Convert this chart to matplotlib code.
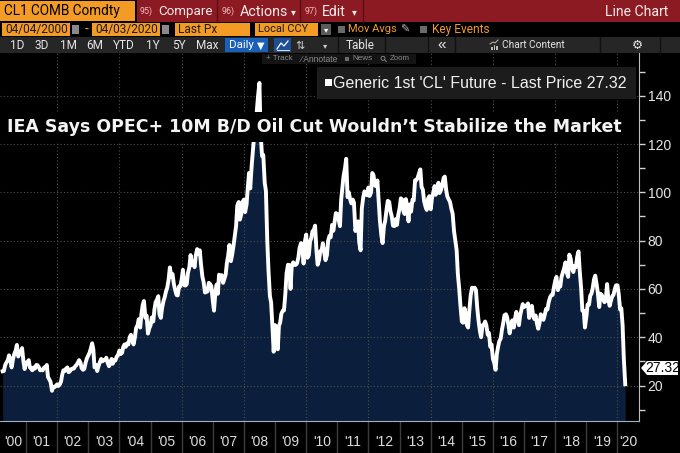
import numpy as np
import pandas as pd
import matplotlib
matplotlib.use("Agg")
import matplotlib.pyplot as plt
import matplotlib.dates as mdates
from matplotlib.patches import Rectangle, Polygon, Circle
from matplotlib.ticker import FixedLocator, FixedFormatter, NullFormatter

W, H = 680, 453

# harga CL1 (WTI), dua titik per bulan (tgl 1 dan 15)
p2000 = [25.9, 26.0, 28.5, 29.5, 30.5, 32.5, 30.5, 27.5, 31.0, 33.0, 34.5, 36.8,
         32.0, 33.5, 34.0, 35.5, 30.0, 26.8]
p2001 = [29.5, 29.2, 30.5, 27.5, 27.0, 26.3, 27.5, 27.0, 28.5, 28.4, 27.5, 26.3,
         26.5, 26.3, 27.5, 27.2, 28.5, 23.5, 22.5, 21.5, 17.8, 19.5, 19.3, 19.8]
p2002 = [20.5, 19.8, 20.5, 21.6, 24.5, 26.3, 26.0, 27.0, 27.5, 25.5, 26.0, 26.8,
         27.0, 27.0, 28.0, 28.5, 29.5, 30.5, 29.5, 27.2, 26.5, 26.9, 29.5, 31.2]
p2003 = [32.5, 33.5, 35.5, 37.5, 35.0, 27.5, 28.5, 26.0, 28.0, 29.5, 31.0, 30.0,
         30.5, 30.5, 31.5, 29.5, 28.0, 29.0, 31.0, 29.0, 30.5, 30.4, 32.0, 32.5]
p2004 = [34.5, 33.0, 33.5, 36.0, 37.0, 36.0, 37.5, 37.0, 40.0, 41.0, 38.5, 37.0,
         40.0, 43.8, 45.0, 47.5, 44.0, 49.5, 53.5, 55.0, 48.0, 49.0, 41.5, 43.5]
p2005 = [45.0, 48.2, 46.5, 51.5, 54.5, 55.4, 57.0, 49.5, 48.0, 51.9, 55.0, 56.5,
         59.0, 60.5, 64.0, 68.9, 65.0, 66.2, 62.0, 59.8, 57.5, 57.3, 61.0, 61.0]
p2006 = [64.0, 67.9, 61.5, 61.4, 62.0, 66.6, 69.0, 74.0, 70.0, 71.3, 69.0, 73.9,
         76.5, 74.4, 76.0, 70.3, 65.0, 62.9, 58.5, 58.7, 59.0, 62.5, 62.0, 61.1]
p2007 = [55.0, 51.0, 59.0, 61.8, 58.0, 65.9, 64.0, 65.7, 62.5, 64.0, 66.0, 70.7,
         74.0, 78.2, 71.5, 74.0, 78.0, 81.7, 86.0, 94.5, 96.0, 88.7, 91.0, 96.0]
p2008 = [97.0, 91.8, 95.0, 101.8, 108.0, 101.6, 111.0, 117.0, 124.0, 127.4, 134.0, 140.0,
         145.3, 124.1, 115.0, 115.5, 104.0, 100.6, 80.0, 67.8, 57.0, 54.4, 44.0, 34.0]
p2009 = [45.0, 41.7, 35.0, 44.8, 46.0, 49.7, 51.0, 51.1, 58.0, 66.3, 70.0, 69.9,
         60.0, 69.5, 71.0, 69.9, 70.0, 70.6, 73.0, 77.0, 79.0, 77.3, 70.5, 79.4]
p2010 = [82.5, 72.9, 74.0, 79.7, 81.0, 83.8, 84.5, 86.2, 76.0, 70.0, 72.0, 75.6,
         76.0, 78.9, 75.0, 71.9, 74.0, 80.0, 82.0, 81.4, 86.5, 84.1, 88.0, 91.4]
p2011 = [91.0, 89.0, 86.0, 97.0, 102.0, 106.7, 110.0, 113.9, 98.0, 100.0, 97.0, 95.4,
         97.0, 95.7, 84.0, 86.0, 88.0, 79.2, 76.0, 93.2, 98.0, 100.4, 100.0, 98.8]
p2012 = [102.0, 98.5, 100.0, 108.0, 107.0, 103.0, 102.5, 104.9, 96.0, 88.0, 82.0, 79.0,
         86.0, 88.1, 93.0, 96.5, 96.0, 92.2, 90.0, 86.2, 86.0, 88.9, 86.5, 90.5]
p2013 = [93.5, 97.5, 97.0, 92.1, 91.0, 97.2, 94.0, 88.0, 95.0, 92.0, 97.0, 96.6,
         105.0, 105.0, 106.0, 107.7, 109.5, 102.3, 101.0, 96.4, 94.0, 92.7, 97.5, 98.4]
p2014 = [93.0, 97.5, 100.0, 102.6, 99.0, 101.6, 104.0, 99.7, 101.0, 102.7, 106.0, 106.5,
         101.0, 98.2, 97.0, 96.0, 93.0, 91.2, 84.0, 80.5, 76.0, 66.2, 60.0, 53.3]
p2015 = [46.5, 46.0, 52.0, 49.8, 45.0, 44.0, 52.0, 57.5, 60.5, 60.3, 60.5, 59.5,
         52.0, 47.1, 42.5, 40.0, 45.0, 45.1, 46.5, 45.0, 41.0, 41.7, 36.0, 37.0]
p2016 = [31.0, 29.5, 26.5, 33.0, 36.0, 38.3, 39.5, 43.0, 46.0, 49.1, 49.5, 48.3,
         45.0, 41.6, 45.0, 47.0, 44.0, 47.5, 50.5, 48.0, 45.0, 49.0, 51.5, 53.7]
p2017 = [52.5, 53.0, 53.0, 54.0, 48.0, 50.6, 53.0, 49.3, 47.5, 49.0, 45.5, 43.5,
         46.0, 49.5, 48.5, 47.2, 49.5, 51.7, 51.5, 54.4, 56.5, 57.4, 57.5, 60.4]
p2018 = [63.5, 65.0, 59.5, 61.6, 61.0, 64.9, 67.0, 68.6, 71.0, 67.0, 65.0, 74.2,
         72.5, 68.8, 67.0, 69.5, 69.0, 73.3, 75.5, 67.5, 60.0, 51.0, 51.0, 44.0]
p2019 = [48.5, 53.5, 53.5, 57.2, 58.0, 60.1, 64.0, 65.5, 62.0, 58.5, 52.5, 58.0,
         57.5, 56.0, 54.5, 55.0, 62.0, 56.0, 53.0, 55.0, 57.0, 57.5, 60.0, 61.5]
p2020 = [61.5, 58.0, 51.5, 52.0, 45.0, 31.5, 20.5]

years = list(range(2000, 2021))
year_labels = ["'%02d" % (y % 100) for y in years]
y_ticks = [20, 40, 60, 80, 100, 120, 140]
last_price = "27.32"
headline = "IEA Says OPEC+ 10M B/D Oil Cut Wouldn\u2019t Stabilize the Market"
legend_text = "Generic 1st 'CL' Future - Last Price " + last_price

prices = np.array(p2000 + p2001 + p2002 + p2003 + p2004 + p2005 + p2006 + p2007 +
                  p2008 + p2009 + p2010 + p2011 + p2012 + p2013 + p2014 + p2015 +
                  p2016 + p2017 + p2018 + p2019 + p2020)
dates = pd.date_range("2000-04-01", periods=len(prices), freq="SMS")

UI = ["Roboto", "DejaVu Sans"]
REG = ["Liberation Sans", "DejaVu Sans"]
SYM = ["DejaVu Sans"]

ORANGE = "#f49b25"
RED = "#8c1a22"

fig = plt.figure(figsize=(W / 100, H / 100), dpi=100, facecolor="black")

# latar belakang / header
bg = fig.add_axes([0, 0, 1, 1], zorder=0)
bg.set_xlim(0, W)
bg.set_ylim(H, 0)
bg.axis("off")

fits = []  # (teks, lebar target dalam piksel)


def box(a, x0, y0, x1, y1, c, z=1):
    a.add_patch(Rectangle((x0, y0), x1 - x0, y1 - y0, facecolor=c, edgecolor="none", zorder=z))


def txt(a, x, y, s, size, color, ha="left", fam=UI, w=None, **kw):
    t = a.text(x, y, s, fontsize=size, color=color, ha=ha, va="center", family=fam, **kw)
    if w:
        fits.append((t, w))
    return t


# baris 1
box(bg, 0, 1, 135, 21, ORANGE)
txt(bg, 4, 11.5, "CL1 COMB Comdty", 11, "black", w=116)
box(bg, 137, 0, W, 22, RED)
for xs in [217, 300, 363]:
    bg.plot([xs, xs], [0, 22], color="#5a0d12", lw=1)
txt(bg, 140, 11.5, "95)", 8.5, "#f0bcbc", w=13)
txt(bg, 158, 11.5, "Compare", 11, "#f5eaea", w=54)
txt(bg, 222, 11.5, "96)", 8.5, "#f0bcbc", w=13)
txt(bg, 240, 11.5, "Actions", 11, "#f5eaea", w=48)
txt(bg, 293, 12, "\u25be", 7, "#f5eaea", ha="center", fam=SYM)
txt(bg, 305, 11.5, "97)", 8.5, "#f0bcbc", w=13)
txt(bg, 322, 11.5, "Edit", 11, "#f5eaea", w=24)
txt(bg, 354, 12, "\u25be", 7, "#f5eaea", ha="center", fam=SYM)
txt(bg, 668, 11.5, "Line Chart", 11, "#f5eaea", ha="right", w=63)

# baris 2
box(bg, 2, 23, 70, 36, ORANGE)
txt(bg, 5, 29.5, "04/04/2000", 10, "#1a1a1a", w=63)
box(bg, 72, 25, 79, 34, "#8a8a8a")
txt(bg, 85, 29.5, "-", 10, ORANGE)
box(bg, 92, 23, 160, 36, ORANGE)
txt(bg, 95, 29.5, "04/03/2020", 10, "#1a1a1a", w=63)
box(bg, 162, 25, 169, 34, "#8a8a8a")
box(bg, 175, 23, 250, 36, ORANGE)
txt(bg, 178, 29.5, "Last Px", 10, "#1a1a1a", w=39)
box(bg, 255, 23, 318, 36, ORANGE)
txt(bg, 258, 29.5, "Local CCY", 10, "#1a1a1a", w=50)
box(bg, 321, 24, 331, 35, "#5a5a5a")
txt(bg, 326, 30, "\u25be", 6, "white", ha="center", fam=SYM)
box(bg, 338, 26, 345, 33, "#6a6a6a")
txt(bg, 348, 29.5, "Mov Avgs", 10, ORANGE, w=49)
txt(bg, 405, 29.5, "\u270e", 8, "#bbbbbb", ha="center", fam=SYM)
box(bg, 420, 26, 427, 33, "#6a6a6a")
txt(bg, 432, 29.5, "Key Events", 10, ORANGE, w=58)

# baris 3
box(bg, 0, 37, W, 53, "#262626")
for lab, xc in zip(["1D", "3D", "1M", "6M", "YTD", "1Y", "5Y", "Max"],
                   [17, 42, 68, 95, 124, 153, 179, 207]):
    txt(bg, xc, 45.5, lab, 8.5, "#e6e6e6", ha="center")
box(bg, 225, 38, 268, 52, "#1a5fb8")
txt(bg, 229, 45.5, "Daily", 9.5, "white", w=25)
txt(bg, 261, 46, "\u25bc", 7, "white", ha="center", fam=SYM)
box(bg, 274, 38, 291, 52, "#1e4f95")
bg.plot([277, 281, 284, 288], [49, 43, 46, 41], color="white", lw=0.9)
bg.plot([277, 289], [50, 50], color="white", lw=0.6)
txt(bg, 300, 45.5, "\u21c5", 8, "#cccccc", ha="center", fam=SYM)
txt(bg, 325, 46, "\u25be", 6, "#cccccc", ha="center", fam=SYM)
for xs in [338, 385, 428, 455, 600, 660]:
    bg.plot([xs, xs], [37, 53], color="#111111", lw=1)
txt(bg, 360, 45.5, "Table", 8.5, "#e6e6e6", ha="center")
txt(bg, 442, 45, "\u00ab", 11, "#e6e6e6", ha="center", fam=REG)
for i, hh in enumerate([3, 5, 4]):
    box(bg, 491 + i * 2.5, 50 - hh, 492.5 + i * 2.5, 50, "#bbbbbb", z=2)
bg.plot([490, 493, 495, 498], [44, 42, 43, 40], color="#bbbbbb", lw=0.7)
txt(bg, 502, 45.5, "Chart Content", 9.5, "#e6e6e6", w=63)
txt(bg, 637, 45.5, "\u2699", 9, "#e6e6e6", ha="center", fam=SYM)

# grafik
ax = fig.add_axes([0, 32 / H, 639.3 / W, 368 / H], facecolor="black", zorder=2)
x0 = mdates.date2num(pd.Timestamp("2000-03-01"))
x1 = mdates.date2num(pd.Timestamp("2020-09-13"))
ax.set_xlim(x0, x1)
ax.set_ylim(5.3, 157.7)

ax.fill_between(dates, prices, 0, color="#0b1f3c", lw=0, zorder=1)
for v in y_ticks:
    ax.axhline(v, color="#4d4d4d", lw=0.8, ls=(0, (1, 2)), zorder=1.5)
for yr in range(2002, 2021, 2):
    ax.axvline(pd.Timestamp(yr, 1, 1), color="#4d4d4d", lw=0.8, ls=(0, (1, 2)), zorder=1.5)
ax.plot(dates, prices, color="white", lw=2.8, solid_joinstyle="round", zorder=2)

for s in ["top", "left"]:
    ax.spines[s].set_visible(False)
ax.spines["right"].set_color("#bdbdbd")
ax.spines["bottom"].set_color("#9fb2c6")

# sumbu x: garis pemisah tahun + label di tengah tahun
jan1 = [mdates.date2num(pd.Timestamp(y, 1, 1)) for y in years[1:]]
centers = []
for y in years:
    a = max(mdates.date2num(pd.Timestamp(y, 1, 1)), x0)
    b = min(mdates.date2num(pd.Timestamp(y + 1, 1, 1)), x1)
    centers.append((a + b) / 2)
ax.xaxis.set_major_locator(FixedLocator(jan1))
ax.xaxis.set_major_formatter(NullFormatter())
ax.xaxis.set_minor_locator(FixedLocator(centers))
ax.xaxis.set_minor_formatter(FixedFormatter(year_labels))
ax.tick_params(axis="x", which="major", direction="out", length=23, width=1, color="#3c3c3c")
ax.tick_params(axis="x", which="minor", length=0, pad=10, labelsize=10, labelcolor="#dcdcdc")
for t in ax.get_xticklabels(minor=True):
    t.set_family(REG)

# sumbu y kanan
ax.yaxis.tick_right()
ax.set_yticks(y_ticks)
ax.set_yticks(list(range(10, 151, 20)), minor=True)
ax.tick_params(axis="y", which="both", direction="out", length=4, width=1, color="#cfcfcf",
               labelsize=10, labelcolor="#e6e6e6", pad=2)
for t in ax.get_yticklabels():
    t.set_family(REG)

# lapisan atas
ov = fig.add_axes([0, 0, 1, 1], zorder=3)
ov.set_xlim(0, W)
ov.set_ylim(H, 0)
ov.axis("off")

box(ov, 262, 54, 416, 64, "#141414")
txt(ov, 266, 59, "+ Track", 6, "#8c8c8c", fam=REG, w=27)
txt(ov, 301, 59, "\u2044 Annotate", 6, "#8c8c8c", fam=REG, w=38)
box(ov, 345, 57, 349, 61, "#6c6c6c", z=2)
txt(ov, 352, 59, "News", 6, "#8c8c8c", fam=REG, w=20)
ov.add_patch(Circle((383, 58.3), 2.0, facecolor="none", edgecolor="#8c8c8c", lw=0.6, zorder=2))
ov.plot([384.5, 386.5], [59.8, 61.8], color="#8c8c8c", lw=0.6, zorder=2)
txt(ov, 390, 59, "Zoom", 6, "#8c8c8c", fam=REG, w=20)

box(ov, 317, 67, 636, 99, "#1c1c1c")
box(ov, 325, 79, 332, 86, "white", z=2)
txt(ov, 333, 83, legend_text, 12, "#f0f0f0", fam=REG, w=295)

box(ov, 0, 112, 630, 142, "black")
txt(ov, 7, 127.5, headline, 14, "#f4f4f4", fam=SYM, fontweight="bold", w=615)

ov.add_patch(Polygon([(641, 368), (647, 361), (678, 361), (678, 375), (647, 375)],
                     closed=True, facecolor="white", edgecolor="none", zorder=3))
txt(ov, 662.5, 368, last_price, 10, "black", ha="center", fam=REG, zorder=4)

# paskan lebar teks ke gambar asli
fig.canvas.draw()
r = fig.canvas.get_renderer()
for t, target in fits:
    bb = t.get_window_extent(r)
    t.set_fontsize(t.get_fontsize() * target / bb.width)

fig.savefig("out.png", dpi=100, facecolor="black")
